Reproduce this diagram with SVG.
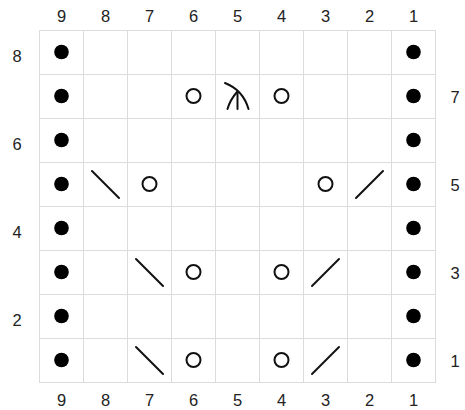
<svg xmlns="http://www.w3.org/2000/svg" width="465" height="410" viewBox="0 0 465 410">
<style>
.g{stroke:#dcdcdc;stroke-width:1;fill:none}
.t{font-family:"Liberation Sans",Arial,sans-serif;font-size:16.5px;fill:#222;text-anchor:middle}
.d{fill:#000}
.o{fill:none;stroke:#111;stroke-width:2}
.s{stroke:#111;stroke-width:2;fill:none;stroke-linecap:round}
</style>
<rect width="465" height="410" fill="#fff"/>
<g id="grid" class="g">
<rect x="39.5" y="30.5" width="396" height="352"/>
<path d="M83.5 30.5V382.5M127.5 30.5V382.5M171.5 30.5V382.5M215.5 30.5V382.5M259.5 30.5V382.5M303.5 30.5V382.5M347.5 30.5V382.5M391.5 30.5V382.5"/>
<path d="M39.5 74.5H435.5M39.5 118.5H435.5M39.5 162.5H435.5M39.5 206.5H435.5M39.5 250.5H435.5M39.5 294.5H435.5M39.5 338.5H435.5"/>
</g>
<g id="col-labels-top" class="t">
<text x="61.5" y="22">9</text><text x="105.5" y="22">8</text><text x="149.5" y="22">7</text><text x="193.5" y="22">6</text><text x="237.5" y="22">5</text><text x="281.5" y="22">4</text><text x="325.5" y="22">3</text><text x="369.5" y="22">2</text><text x="413.5" y="22">1</text>
</g>
<g id="col-labels-bottom" class="t">
<text x="61.5" y="406">9</text><text x="105.5" y="406">8</text><text x="149.5" y="406">7</text><text x="193.5" y="406">6</text><text x="237.5" y="406">5</text><text x="281.5" y="406">4</text><text x="325.5" y="406">3</text><text x="369.5" y="406">2</text><text x="413.5" y="406">1</text>
</g>
<g id="row-labels" class="t">
<text x="17" y="62">8</text><text x="17" y="150">6</text><text x="17" y="238">4</text><text x="17" y="326">2</text>
<text x="455" y="103">7</text><text x="455" y="191">5</text><text x="455" y="279">3</text><text x="455" y="367">1</text>
</g>
<g id="purl-left" class="d">
<circle cx="61.5" cy="52" r="7.3"/><circle cx="61.5" cy="96" r="7.3"/><circle cx="61.5" cy="140" r="7.3"/><circle cx="61.5" cy="184" r="7.3"/><circle cx="61.5" cy="228" r="7.3"/><circle cx="61.5" cy="272" r="7.3"/><circle cx="61.5" cy="316" r="7.3"/><circle cx="61.5" cy="360" r="7.3"/>
</g>
<g id="purl-right" class="d">
<circle cx="413.5" cy="52" r="7.3"/><circle cx="413.5" cy="96" r="7.3"/><circle cx="413.5" cy="140" r="7.3"/><circle cx="413.5" cy="184" r="7.3"/><circle cx="413.5" cy="228" r="7.3"/><circle cx="413.5" cy="272" r="7.3"/><circle cx="413.5" cy="316" r="7.3"/><circle cx="413.5" cy="360" r="7.3"/>
</g>
<g id="yarn-overs" class="o">
<circle cx="193.5" cy="96" r="7"/><circle cx="281.5" cy="96" r="7"/>
<circle cx="149.5" cy="184" r="7"/><circle cx="325.5" cy="184" r="7"/>
<circle cx="193.5" cy="272" r="7"/><circle cx="281.5" cy="272" r="7"/>
<circle cx="193.5" cy="360" r="7"/><circle cx="281.5" cy="360" r="7"/>
</g>
<g id="decreases" class="s">
<path d="M92 171L119 198"/><path d="M356 198L383 171"/>
<path d="M136 259L163 286"/><path d="M312 286L339 259"/>
<path d="M136 347L163 374"/><path d="M312 374L339 347"/>
</g>
<g id="double-decrease" class="s">
<path d="M225 83Q243 90 248.5 109"/>
<path d="M237.5 92V109"/>
<path d="M237 92Q230 100 227.5 109"/>
</g>
</svg>
